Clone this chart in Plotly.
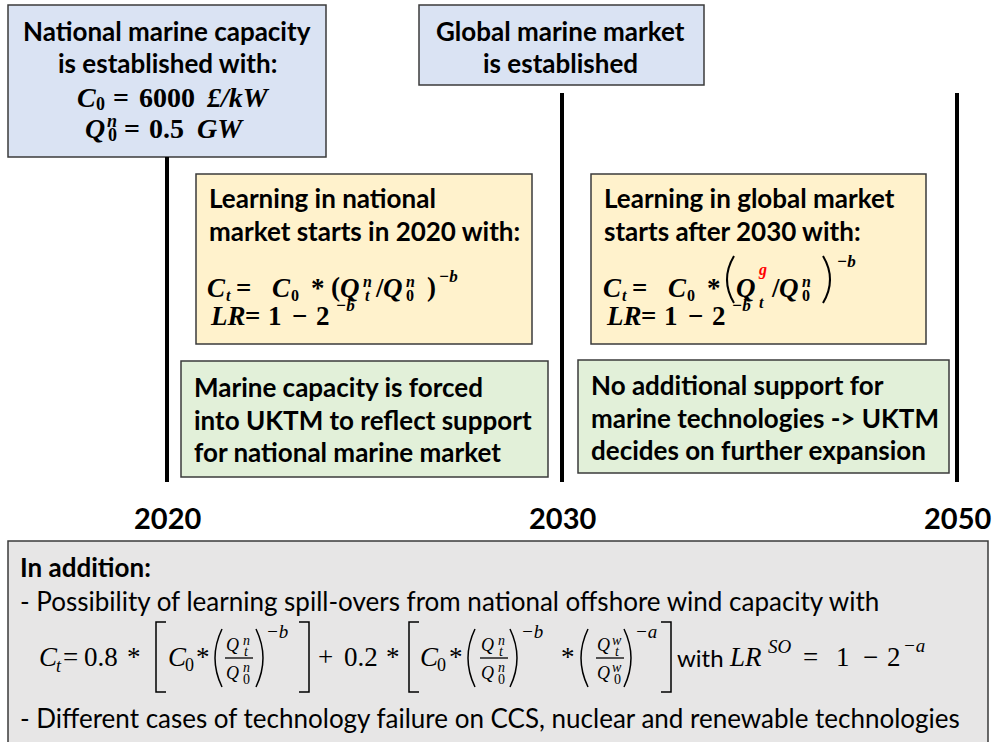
import plotly.graph_objects as go

# ---------------- content (data) ----------------
years = ["2020", "2030", "2050"]
box_national_lines = ["National marine capacity", "is established with:"]
box_global_lines = ["Global marine market", "is established"]
learn_national_lines = ["Learning in national", "market starts in 2020 with:"]
learn_global_lines = ["Learning in global market", "starts after 2030 with:"]
support_national_lines = ["Marine capacity is forced", "into UKTM to reflect support", "for national marine market"]
support_global_lines = ["No additional support for", "marine technologies -> UKTM", "decides on further expansion"]
addition_title = "In addition:"
addition_lines = [
    "- Possibility of learning spill-overs from national offshore wind capacity with",
    "- Different cases of technology failure on CCS, nuclear and renewable technologies",
]
initial_cost = ["6000", "£/kW"]
initial_capacity = ["0.5", "GW"]
spill_weights = ["0.8", "0.2"]

# ---------------- styles ----------------
W, H = 993, 742
SANS = "Lato, 'Open Sans', sans-serif"
SERIF = "'Liberation Serif', 'DejaVu Serif', serif"
EDGE = "#3b3b3b"
BLUE = "#dae3f3"
ORANGE = "#fff2cc"
GREEN = "#e2f0d9"
GREY = "#e7e6e6"

shapes = []
ann = []


def rect(x0, y0, x1, y1, fill):
    shapes.append(dict(type="rect", xref="x", yref="y", x0=x0, y0=y0, x1=x1, y1=y1,
                       fillcolor=fill, line=dict(color=EDGE, width=1.5), layer="below"))


def vline(x, y0, y1, w=4):
    shapes.append(dict(type="line", xref="x", yref="y", x0=x, x1=x, y0=y0, y1=y1,
                       line=dict(color="black", width=w)))


def hline(x0, x1, y, w=1.3):
    shapes.append(dict(type="line", xref="x", yref="y", x0=x0, x1=x1, y0=y, y1=y,
                       line=dict(color="black", width=w)))


def path(d, w=1.5):
    shapes.append(dict(type="path", xref="x", yref="y", path=d,
                       line=dict(color="black", width=w)))


def lparen(x0, x1, y0, y1, w=1.5):
    path(f"M {x1},{y0} Q {2*x0-x1},{(y0+y1)/2} {x1},{y1}", w)


def rparen(x0, x1, y0, y1, w=1.5):
    path(f"M {x0},{y0} Q {2*x1-x0},{(y0+y1)/2} {x0},{y1}", w)


def lbrack(x0, x1, y0, y1):
    path(f"M {x1},{y0} L {x0},{y0} L {x0},{y1} L {x1},{y1}", 1.5)


def rbrack(x0, x1, y0, y1):
    path(f"M {x0},{y0} L {x1},{y0} L {x1},{y1} L {x0},{y1}", 1.5)


def txt(x, y, s, size, anchor="left", family=SANS, color="black"):
    ann.append(dict(x=x, y=y, xref="x", yref="y", text=s, showarrow=False,
                    xanchor=anchor, yanchor="middle", borderpad=0,
                    font=dict(family=family, size=size, color=color)))


def m(x, y, s, size, anchor="center", bold=True, italic=True, color="black"):
    t = s
    if italic:
        t = f"<i>{t}</i>"
    if bold:
        t = f"<b>{t}</b>"
    txt(x, y, t, size, anchor, SERIF, color)


# ---------------- boxes ----------------
rect(8, 5, 326, 157, BLUE)
rect(419, 5, 704, 85, BLUE)
rect(196, 174, 532, 344, ORANGE)
rect(591, 174, 926, 344, ORANGE)
rect(181, 361, 548, 477, GREEN)
rect(578, 360, 949, 473, GREEN)
rect(8, 541, 988, 760, GREY)

# ---------------- timeline ----------------
year_x = [167, 562, 957]
line_top = [157, 93, 93]
for yr, x, t in zip(years, year_x, line_top):
    vline(x, t, 482)
    txt(x, 517, f"<b>{yr}</b>", 29, "center")

# ---------------- box texts ----------------
BS = 26
for i, s in enumerate(box_national_lines):
    txt(167, 31 + 32 * i, f"<b>{s}</b>", BS, "center")
for i, s in enumerate(box_global_lines):
    txt(560, 31 + 32 * i, f"<b>{s}</b>", BS, "center")
for i, s in enumerate(learn_national_lines):
    txt(208, 198 + 33 * i, f"<b>{s}</b>", BS)
for i, s in enumerate(learn_global_lines):
    txt(603, 198 + 33 * i, f"<b>{s}</b>", BS)
for i, s in enumerate(support_national_lines):
    txt(193, 387 + 32.5 * i, f"<b>{s}</b>", BS)
for i, s in enumerate(support_global_lines):
    txt(590, 385 + 32.5 * i, f"<b>{s}</b>", BS)

# initial values (box 1)
S1, s1 = 28, 18
m(86, 97, "C", S1)
m(100, 104, "0", s1, italic=False)
m(121, 97, "=", S1, italic=False)
m(167, 97, initial_cost[0], S1, italic=False)
m(238, 97, initial_cost[1], S1)
m(95, 128, "Q", S1)
m(112, 121, "n", s1)
m(112, 135, "0", s1, italic=False)
m(132, 128, "=", S1, italic=False)
m(166, 128, initial_capacity[0], S1, italic=False)
m(220, 128, initial_capacity[1], S1)


# learning formulas in the two orange boxes
def learning_formula(dx, global_market):
    y = 288
    S, s = 27, 16
    m(612 + dx, y, "C", S)
    m(624 + dx, y + 7, "t", s)
    m(639 + dx, y, "=", S, italic=False)
    m(677 + dx, y, "C", S)
    m(691 + dx, y + 7, "0", s, italic=False)
    m(714 + dx, y, "*", S, italic=False)
    if global_market:
        lparen(727, 734, 256, 303, 2)
        rparen(823, 830, 256, 303, 2)
        m(762, 270, "g", s, color="#ff0000")
        m(761, 302, "t", s)
    else:
        m(731 + dx, y - 1, "(", S, italic=False)
        m(827 + dx, y - 1, ")", S, italic=False)
        m(763 + dx, 281, "n", s)
        m(763 + dx, 295, "t", s)
    m(746 + dx, y, "Q", S)
    m(775 + dx, y, "/", S, italic=False)
    m(789 + dx, y, "Q", S)
    m(806 + dx, 281, "n", s)
    m(806 + dx, 295, "0", s, italic=False)
    sup_y = 261 if global_market else 276
    sup_x = 836 if global_market else 834
    m(sup_x + dx, sup_y, "−b", s + 1, anchor="left")
    # LR line
    y2 = 316
    m(605 + dx, y2, "LR", S, anchor="left")
    m(648 + dx, y2, "=", S, italic=False)
    m(671 + dx, y2, "1", S, italic=False)
    m(695 + dx, y2, "−", S, italic=False)
    m(719 + dx, y2, "2", S, italic=False)
    m(731 + dx, 305, "−b", s + 1, anchor="left")


learning_formula(-396, False)
learning_formula(0, True)

# ---------------- bottom grey box ----------------
txt(19, 567, f"<b>{addition_title}</b>", 26)
txt(19, 601, addition_lines[0], 26)
txt(19, 718, addition_lines[1], 26)

Y = 657
FS, fs, ss = 27, 14, 19


def bm(x, y, s, size, anchor="center", italic=True):
    m(x, y, s, size, anchor, bold=False, italic=italic)


def frac(xq, top_sup, top_sub, bot_sup, bot_sub):
    bm(xq - 1, 645, "Q", 18)
    bm(xq + 13, 640, top_sup, fs)
    bm(xq + 13, 651, top_sub, fs)
    hline(xq - 8, xq + 20, Y + 1)
    bm(xq - 1, 673, "Q", 18)
    bm(xq + 13, 667, bot_sup, fs)
    bm(xq + 13, 679, bot_sub, fs, italic=False)


bm(48, Y, "C", FS)
bm(59, Y + 9, "t", 18)
bm(70, Y, "=", FS, italic=False)
bm(101, Y, spill_weights[0], FS, italic=False)
bm(134, Y, "*", FS, italic=False)
lbrack(156, 166, 622, 692)
bm(177, Y, "C", FS)
bm(189, Y + 8, "0", 18, italic=False)
bm(203, Y, "*", FS, italic=False)
lparen(215, 222, 629, 687)
frac(233, "n", "t", "n", "0")
rparen(256, 263, 629, 687)
bm(265, 631, "−b", ss, anchor="left")
rbrack(299, 309, 622, 692)
bm(325, Y, "+", FS, italic=False)
bm(361, Y, spill_weights[1], FS, italic=False)
bm(393, Y, "*", FS, italic=False)
lbrack(409, 419, 622, 692)
bm(429, Y, "C", FS)
bm(441, Y + 8, "0", 18, italic=False)
bm(456, Y, "*", FS, italic=False)
lparen(468, 475, 629, 687)
frac(488, "n", "t", "n", "0")
rparen(510, 517, 629, 687)
bm(520, 631, "−b", ss, anchor="left")
bm(568, Y, "*", FS, italic=False)
lparen(581, 588, 629, 687)
frac(604, "w", "t", "w", "0")
rparen(624, 631, 629, 687)
bm(634, 631, "−a", ss, anchor="left")
rbrack(661, 671, 622, 692)
txt(676, Y, "with", 24)
bm(728, Y, "LR", FS, anchor="left")
bm(767, 646, "SO", ss, anchor="left")
bm(810, Y, "=", FS, italic=False)
bm(843, Y, "1", FS, italic=False)
bm(870, Y, "−", FS, italic=False)
bm(894, Y, "2", FS, italic=False)
bm(902, 645, "−a", ss, anchor="left")

# ---------------- figure ----------------
fig = go.Figure()
fig.update_layout(
    width=W, height=H,
    margin=dict(l=0, r=0, t=0, b=0),
    paper_bgcolor="white", plot_bgcolor="white",
    xaxis=dict(range=[0, W], visible=False, fixedrange=True),
    yaxis=dict(range=[H, 0], visible=False, fixedrange=True),
    shapes=shapes, annotations=ann, showlegend=False,
)
fig.write_html(
    "out.html",
    config={"displayModeBar": False},
    post_script="document.body.style.margin='0';document.body.style.overflow='hidden';",
)
